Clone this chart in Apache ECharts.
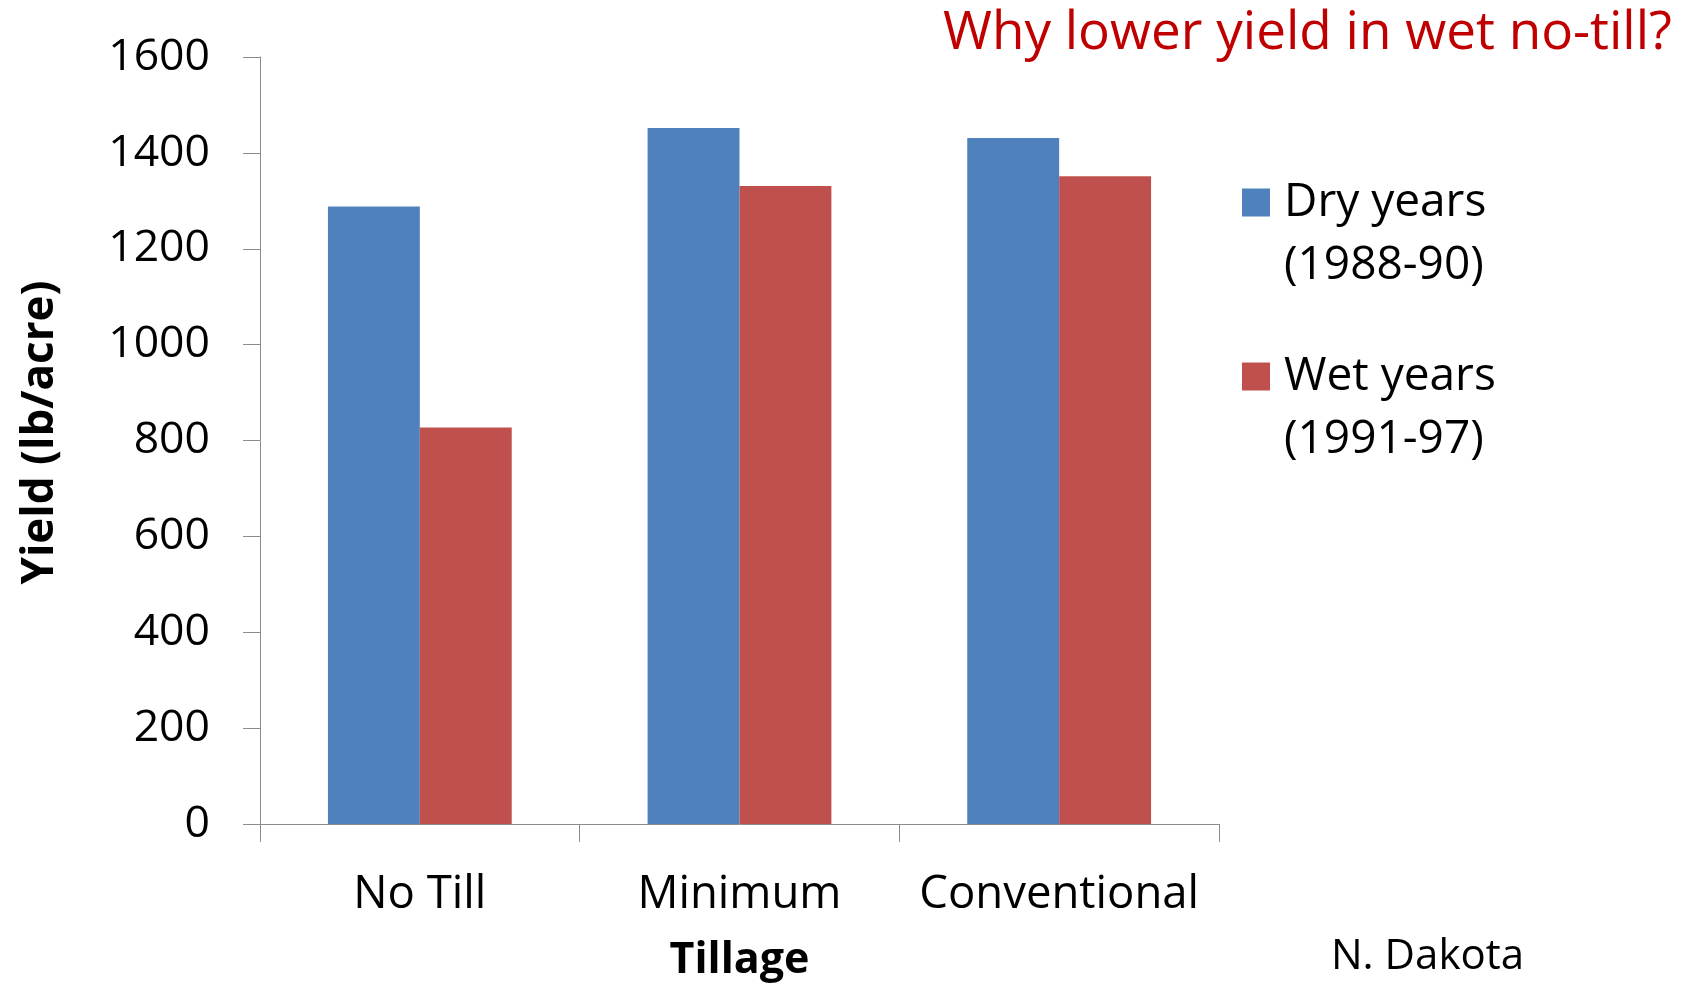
<!DOCTYPE html>
<html>
<head>
<meta charset="utf-8">
<script src="https://cdn.jsdelivr.net/npm/echarts@6/dist/echarts.min.js"></script>
<style>
  html, body { margin: 0; padding: 0; background: #ffffff; }
  #chart { width: 1691px; height: 987px; }
</style>
</head>
<body>
<div id="chart"></div>
<script>
// Tillage systems on the category axis
const categories = ['No Till', 'Minimum', 'Conventional'];
// Yield (lb/acre) per tillage system
const dryYears = [1288, 1452, 1431];
const wetYears = [827, 1331, 1351];
const seriesNames = ['Dry years\n(1988-90)', 'Wet years\n(1991-97)'];

const FONT = '"Open Sans", Lato, sans-serif';
const AXIS_GRAY = '#8c8c8c';

const chart = echarts.init(document.getElementById('chart'), null, { renderer: 'canvas' });

chart.setOption({
  animation: false,
  backgroundColor: '#ffffff',
  textStyle: { fontFamily: FONT, color: '#000' },
  title: {
    text: 'Why lower yield in wet no-till?',
    right: 14,
    top: 2,
    textStyle: { fontFamily: FONT, fontSize: 53, fontWeight: 'normal', color: '#c00000' }
  },
  grid: { left: 260, right: 472, top: 57, bottom: 163, containLabel: false },
  legend: {
    orient: 'vertical',
    left: 1242,
    top: 108,
    padding: 0,
    itemGap: -15,
    itemWidth: 28,
    itemHeight: 28,
    icon: 'rect',
    selectedMode: false,
    // a leading empty line puts the first line of each name level with its swatch
    formatter: function (name) { return '\n' + name; },
    textStyle: {
      fontFamily: FONT,
      fontSize: 46,
      lineHeight: 63,
      color: '#000',
      padding: [0, 0, 0, 9]
    },
    data: seriesNames
  },
  xAxis: {
    type: 'category',
    data: categories,
    name: 'Tillage',
    nameLocation: 'middle',
    nameGap: 115,
    nameTextStyle: { fontFamily: FONT, fontSize: 43, fontWeight: 'bold', color: '#000' },
    axisLine: { lineStyle: { color: AXIS_GRAY, width: 1 } },
    axisTick: { show: true, length: 18, lineStyle: { color: AXIS_GRAY } },
    axisLabel: { margin: 48, interval: 0, hideOverlap: false, fontFamily: FONT, fontSize: 45.5, color: '#000' }
  },
  yAxis: {
    type: 'value',
    min: 0,
    max: 1600,
    interval: 200,
    name: 'Yield (lb/acre)',
    nameLocation: 'middle',
    nameRotate: 90,
    nameGap: 198,
    nameTextStyle: { fontFamily: FONT, fontSize: 44, fontWeight: 'bold', color: '#000', padding: [0, 0, 0, 16] },
    axisLine: { show: true, lineStyle: { color: AXIS_GRAY, width: 1 } },
    axisTick: { show: true, length: 17, lineStyle: { color: AXIS_GRAY } },
    splitLine: { show: false },
    axisLabel: {
      margin: 50,
      fontFamily: FONT,
      fontSize: 44.5,
      color: '#000',
      formatter: function (v) { return String(v); }
    }
  },
  series: [
    {
      name: seriesNames[0],
      type: 'bar',
      data: dryYears,
      barGap: '0%',
      barCategoryGap: '42.5%',
      itemStyle: { color: '#4f81bd' }
    },
    {
      name: seriesNames[1],
      type: 'bar',
      data: wetYears,
      barGap: '0%',
      barCategoryGap: '42.5%',
      itemStyle: { color: '#c0504d' }
    }
  ],
  graphic: [
    {
      type: 'text',
      left: 1331,
      top: 936,
      style: { text: 'N. Dakota', fontFamily: FONT, fontSize: 42, fill: '#000' }
    }
  ]
});
</script>
</body>
</html>
